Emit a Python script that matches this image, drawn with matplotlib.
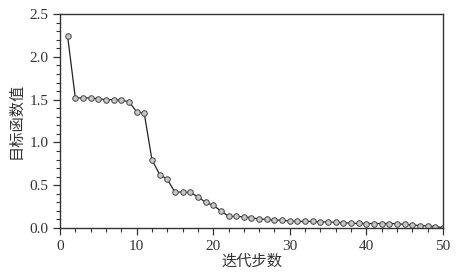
import numpy as np
from matplotlib import pyplot as plt
from matplotlib.ticker import MultipleLocator

plt.rcParams['font.family'] = ['Liberation Serif', 'Noto Sans CJK SC']

steps = np.arange(1, 51)
obj_vals = [2.24, 1.52, 1.52, 1.52, 1.51, 1.50, 1.50, 1.495, 1.475, 1.36,
            1.34, 0.80, 0.625, 0.57, 0.42, 0.42, 0.415, 0.365, 0.30, 0.265,
            0.20, 0.135, 0.135, 0.13, 0.12, 0.105, 0.10, 0.093, 0.09, 0.08,
            0.078, 0.078, 0.076, 0.072, 0.07, 0.065, 0.063, 0.055, 0.053, 0.052,
            0.052, 0.052, 0.052, 0.05, 0.042, 0.035, 0.028, 0.025, 0.015, 0.005]

fig = plt.figure(figsize=(4.6, 2.76), dpi=100)
ax = fig.add_axes([0.1304, 0.174, 0.8326, 0.775])

ax.plot(steps, obj_vals, color='#222222', lw=0.9, marker='o', markersize=4,
        markerfacecolor='#c8c8c8', markeredgecolor='#444444', markeredgewidth=0.7)

ax.set_xlim(0, 50)
ax.set_ylim(0, 2.5)
ax.xaxis.set_major_locator(MultipleLocator(10))
ax.xaxis.set_minor_locator(MultipleLocator(2))
ax.yaxis.set_major_locator(MultipleLocator(0.5))
ax.yaxis.set_minor_locator(MultipleLocator(0.1))
ax.yaxis.set_major_formatter(plt.FormatStrFormatter('%.1f'))
ax.tick_params(which='major', direction='out', length=5, width=0.9, labelsize=11, colors='#333333')
ax.tick_params(which='minor', direction='out', length=3, width=0.8, colors='#333333')
for s in ax.spines.values():
    s.set_color('#333333')
    s.set_linewidth(1.0)

ax.set_xlabel('迭代步数', fontsize=11, color='#333333', labelpad=1)
ax.set_ylabel('目标函数值', fontsize=11, color='#333333', labelpad=4)

fig.savefig('out.png', dpi=100)
